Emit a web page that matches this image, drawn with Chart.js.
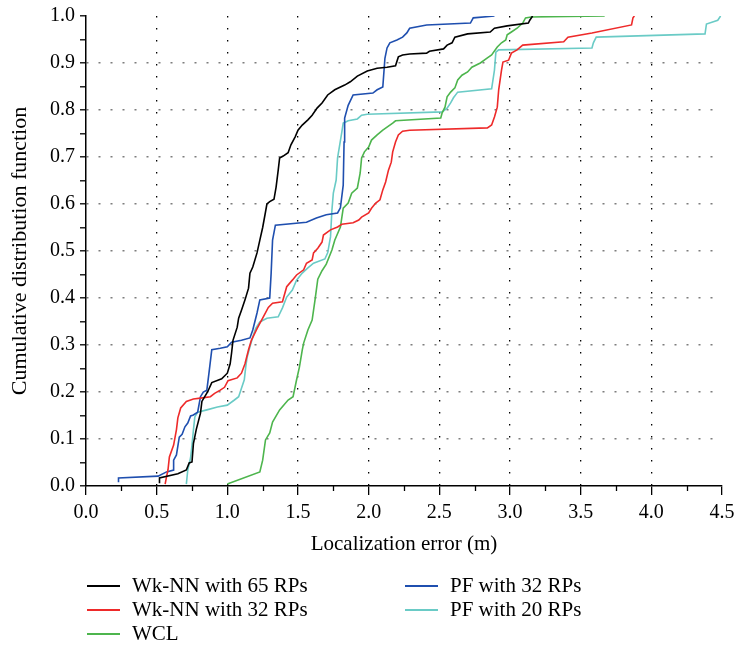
<!DOCTYPE html>
<html>
<head>
<meta charset="utf-8">
<script src="https://cdn.jsdelivr.net/npm/chart.js@4"></script>
<style>
  html, body { margin: 0; padding: 0; background: #fff; }
  #wrap { width: 735px; height: 650px; }
</style>
</head>
<body>
<div id="wrap"><canvas id="cdfChart" width="735" height="650"></canvas></div>
<script>
// [error (m), CDF] pairs
const wk65 = [[0.52,0.006],[0.52,0.017],[0.65,0.026],[0.71,0.034],[0.73,0.049],[0.75,0.051],[0.76,0.09],[0.78,0.12],[0.81,0.155],[0.82,0.18],[0.86,0.20],[0.89,0.22],[0.96,0.228],[1.0,0.24],[1.02,0.26],[1.03,0.283],[1.04,0.31],[1.07,0.338],[1.08,0.357],[1.10,0.374],[1.125,0.396],[1.15,0.421],[1.16,0.453],[1.18,0.466],[1.21,0.496],[1.23,0.523],[1.25,0.55],[1.27,0.583],[1.28,0.60],[1.30,0.605],[1.33,0.61],[1.345,0.636],[1.36,0.672],[1.37,0.698],[1.395,0.702],[1.43,0.709],[1.45,0.726],[1.48,0.743],[1.50,0.757],[1.53,0.768],[1.57,0.779],[1.60,0.789],[1.635,0.804],[1.67,0.815],[1.71,0.832],[1.76,0.843],[1.83,0.853],[1.87,0.86],[1.92,0.872],[1.99,0.883],[2.06,0.889],[2.13,0.891],[2.19,0.894],[2.21,0.913],[2.24,0.917],[2.29,0.919],[2.41,0.921],[2.43,0.925],[2.53,0.93],[2.555,0.938],[2.59,0.943],[2.61,0.955],[2.70,0.962],[2.86,0.966],[2.89,0.974],[2.98,0.979],[3.13,0.985],[3.14,0.991],[3.16,1.0]];
const wk32 = [[0.56,0.004],[0.57,0.02],[0.58,0.034],[0.59,0.062],[0.62,0.087],[0.64,0.12],[0.65,0.145],[0.67,0.166],[0.71,0.18],[0.76,0.185],[0.81,0.187],[0.88,0.19],[0.91,0.197],[0.95,0.204],[0.98,0.21],[1.005,0.224],[1.07,0.23],[1.10,0.24],[1.125,0.26],[1.15,0.29],[1.17,0.31],[1.21,0.335],[1.25,0.357],[1.29,0.38],[1.32,0.389],[1.39,0.392],[1.42,0.424],[1.46,0.438],[1.49,0.449],[1.54,0.46],[1.56,0.474],[1.60,0.481],[1.61,0.496],[1.64,0.506],[1.67,0.519],[1.68,0.534],[1.73,0.545],[1.78,0.551],[1.81,0.557],[1.89,0.56],[1.93,0.566],[1.95,0.572],[2.0,0.581],[2.02,0.591],[2.05,0.602],[2.08,0.609],[2.10,0.63],[2.12,0.647],[2.14,0.672],[2.16,0.689],[2.17,0.711],[2.19,0.732],[2.21,0.747],[2.24,0.755],[2.29,0.757],[2.84,0.762],[2.87,0.768],[2.89,0.785],[2.91,0.806],[2.92,0.843],[2.94,0.885],[2.95,0.902],[2.99,0.906],[3.01,0.921],[3.05,0.928],[3.09,0.938],[3.38,0.945],[3.41,0.955],[3.58,0.964],[3.86,0.981],[3.87,0.996],[3.88,1.0]];
const wcl = [[1.0,0.004],[1.23,0.03],[1.25,0.055],[1.27,0.098],[1.30,0.113],[1.32,0.136],[1.37,0.162],[1.43,0.183],[1.465,0.19],[1.49,0.226],[1.51,0.253],[1.53,0.289],[1.54,0.304],[1.57,0.332],[1.60,0.353],[1.62,0.395],[1.64,0.44],[1.67,0.458],[1.70,0.472],[1.74,0.502],[1.76,0.523],[1.80,0.551],[1.82,0.591],[1.855,0.602],[1.88,0.623],[1.92,0.634],[1.94,0.666],[1.95,0.698],[1.97,0.711],[2.0,0.721],[2.02,0.736],[2.06,0.747],[2.10,0.757],[2.17,0.772],[2.19,0.777],[2.51,0.783],[2.52,0.794],[2.54,0.806],[2.555,0.828],[2.58,0.838],[2.61,0.847],[2.63,0.864],[2.66,0.874],[2.70,0.881],[2.73,0.891],[2.79,0.90],[2.84,0.911],[2.87,0.917],[2.91,0.934],[2.94,0.943],[2.97,0.949],[2.98,0.96],[3.01,0.966],[3.05,0.974],[3.09,0.985],[3.11,0.996],[3.15,0.998],[3.67,1.0]];
const pf32 = [[0.23,0.008],[0.23,0.017],[0.51,0.021],[0.57,0.03],[0.62,0.034],[0.62,0.055],[0.64,0.066],[0.66,0.104],[0.68,0.11],[0.70,0.126],[0.72,0.134],[0.74,0.149],[0.76,0.151],[0.79,0.157],[0.81,0.19],[0.83,0.20],[0.855,0.204],[0.87,0.24],[0.89,0.29],[0.95,0.293],[1.0,0.296],[1.03,0.306],[1.10,0.31],[1.16,0.315],[1.18,0.332],[1.21,0.368],[1.23,0.396],[1.30,0.40],[1.31,0.453],[1.32,0.523],[1.34,0.555],[1.56,0.561],[1.63,0.57],[1.70,0.577],[1.78,0.581],[1.80,0.592],[1.82,0.64],[1.826,0.732],[1.83,0.783],[1.855,0.81],[1.89,0.832],[2.03,0.836],[2.06,0.843],[2.10,0.849],[2.115,0.91],[2.13,0.932],[2.15,0.943],[2.20,0.949],[2.24,0.955],[2.27,0.964],[2.29,0.974],[2.41,0.981],[2.72,0.985],[2.74,0.996],[2.89,1.0]];
const pf20 = [[0.71,0.004],[0.72,0.034],[0.74,0.06],[0.75,0.087],[0.76,0.119],[0.77,0.147],[0.79,0.157],[0.855,0.162],[0.93,0.168],[1.0,0.172],[1.05,0.183],[1.08,0.19],[1.10,0.208],[1.12,0.226],[1.13,0.253],[1.14,0.274],[1.16,0.296],[1.18,0.317],[1.20,0.335],[1.23,0.349],[1.28,0.357],[1.36,0.36],[1.39,0.379],[1.42,0.402],[1.46,0.417],[1.49,0.438],[1.53,0.453],[1.57,0.464],[1.61,0.474],[1.69,0.483],[1.71,0.496],[1.73,0.53],[1.74,0.587],[1.75,0.623],[1.77,0.651],[1.78,0.698],[1.81,0.753],[1.82,0.772],[1.855,0.777],[1.92,0.781],[1.95,0.789],[1.99,0.791],[2.52,0.796],[2.555,0.804],[2.58,0.815],[2.60,0.826],[2.63,0.838],[2.87,0.845],[2.89,0.885],[2.90,0.923],[2.92,0.928],[3.58,0.932],[3.59,0.943],[3.61,0.955],[4.38,0.962],[4.39,0.983],[4.47,0.991],[4.49,1.0]];

const seriesNames = ['Wk-NN with 65 RPs', 'Wk-NN with 32 RPs', 'WCL', 'PF with 32 RPs', 'PF with 20 RPs'];
const seriesData = [wk65, wk32, wcl, pf32, pf20];
const seriesColors = ['#000000', '#ee2a2a', '#4db54d', '#1f4faf', '#6acbc6'];

const FONT = "'Liberation Serif', 'Times New Roman', serif";

const datasets = seriesNames.map((name, i) => ({
  label: name,
  data: seriesData[i].map(p => ({ x: p[0], y: p[1] })),
  borderColor: seriesColors[i],
  backgroundColor: seriesColors[i],
  borderWidth: 1.6,
  pointRadius: 0,
  tension: 0,
  fill: false
}));

// minor ticks on the x axis + two-column legend under the plot
const extras = {
  id: 'extras',
  afterDraw(chart) {
    const ctx = chart.ctx;
    const xs = chart.scales.x;
    const bottom = chart.chartArea.bottom;
    ctx.save();
    ctx.strokeStyle = '#000';
    ctx.lineWidth = 1.3;
    for (let v = 0.25; v < 4.5; v += 0.5) {
      const px = Math.round(xs.getPixelForValue(v)) + 0.5;
      ctx.beginPath();
      ctx.moveTo(px, bottom);
      ctx.lineTo(px, bottom + 5);
      ctx.stroke();
    }
    // legend
    const cols = [[0, 1, 2], [3, 4]];
    const colX = [87, 405];
    const rowY = [586, 610, 634];
    ctx.font = '21px ' + FONT;
    ctx.textBaseline = 'middle';
    ctx.textAlign = 'left';
    cols.forEach((col, c) => {
      col.forEach((di, r) => {
        const ds = chart.data.datasets[di];
        ctx.strokeStyle = ds.borderColor;
        ctx.lineWidth = 2;
        ctx.beginPath();
        ctx.moveTo(colX[c], rowY[r]);
        ctx.lineTo(colX[c] + 33, rowY[r]);
        ctx.stroke();
        ctx.fillStyle = '#000';
        ctx.fillText(ds.label, colX[c] + 45, rowY[r]);
      });
    });
    ctx.restore();
  }
};

new Chart(document.getElementById('cdfChart'), {
  type: 'line',
  data: { datasets: datasets },
  options: {
    responsive: false,
    animation: false,
    layout: { padding: { left: 0, right: 13, top: 16, bottom: 90 } },
    plugins: {
      legend: { display: false },
      tooltip: { enabled: false }
    },
    scales: {
      x: {
        type: 'linear',
        min: 0,
        max: 4.5,
        afterFit: (s) => { s.height = 74; s.paddingLeft = 0; s.paddingRight = 0; },
        ticks: {
          stepSize: 0.5,
          autoSkip: false,
          maxRotation: 0,
          padding: 6,
          color: '#000',
          font: { family: FONT, size: 20 },
          callback: (v) => v.toFixed(1)
        },
        grid: {
          color: (c) => (c.tick && c.tick.value > 0.01 && c.tick.value < 4.49) ? '#000' : 'rgba(0,0,0,0)',
          lineWidth: 1.3,
          tickColor: '#000',
          tickLength: 9,
          tickWidth: 1.3
        },
        border: { display: true, color: '#000', width: 1.5, dash: [1.5, 10.5] },
        title: {
          display: true,
          text: 'Localization error (m)',
          color: '#000',
          font: { family: FONT, size: 21 },
          padding: { top: 0, bottom: 3 }
        }
      },
      y: {
        min: 0,
        max: 1,
        afterFit: (s) => { s.width = 86; s.paddingTop = 0; s.paddingBottom = 0; },
        ticks: {
          stepSize: 0.05,
          autoSkip: false,
          padding: 5,
          color: '#000',
          font: { family: FONT, size: 20 },
          callback: (v) => (Math.round(v * 20) % 2 === 0 ? v.toFixed(1) : '')
        },
        grid: {
          color: (c) => {
            if (!c.tick) return 'rgba(0,0,0,0)';
            const k = Math.round(c.tick.value * 20);
            return (k % 2 === 0 && k > 0 && k < 20) ? '#7d7d7d' : 'rgba(0,0,0,0)';
          },
          lineWidth: 1.6,
          tickColor: '#000',
          tickLength: 6,
          tickWidth: 1.3
        },
        border: { display: true, color: '#000', width: 1.5, dash: [2, 10] },
        title: {
          display: true,
          text: 'Cumulative distribution function',
          color: '#000',
          font: { family: FONT, size: 22 },
          padding: { top: 7, bottom: 0 }
        }
      }
    }
  },
  plugins: [extras]
});
</script>
</body>
</html>
